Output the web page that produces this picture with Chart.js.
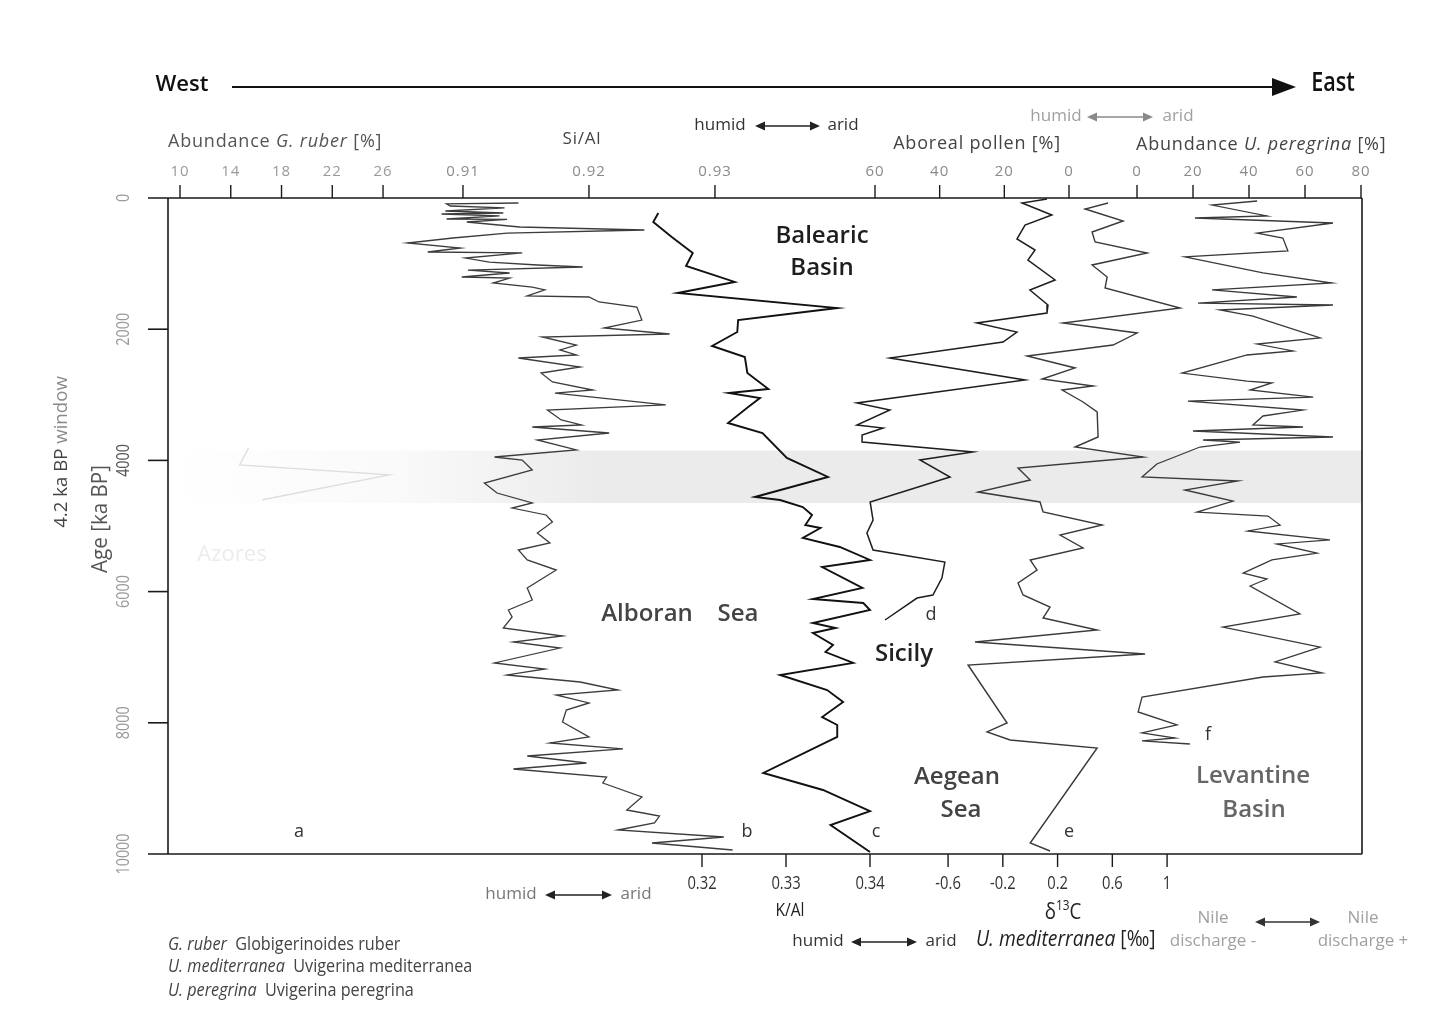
<!DOCTYPE html>
<html>
<head>
<meta charset="utf-8">
<script src="https://cdn.jsdelivr.net/npm/chart.js@4.4.1/dist/chart.umd.min.js"></script>
<style>
  html, body { margin: 0; padding: 0; background: #fff; }
  canvas { display: block; }
</style>
</head>
<body>
<canvas id="chart" width="1439" height="1025"></canvas>
<script>
// age axis (years BP) and tick values of every proxy axis
const ageTicks = [0, 2000, 4000, 6000, 8000, 10000];
const rubTicks = [10, 14, 18, 22, 26];
const siTicks = [0.91, 0.92, 0.93];
const pollenTicks = [60, 40, 20, 0];
const peregTicks = [0, 20, 40, 60, 80];
const kTicks = [0.32, 0.33, 0.34];
const d13Ticks = [-0.6, -0.2, 0.2, 0.6, 1];
const window42 = [3850, 4650];

// [age, value] pairs
// a - Azores, abundance G. ruber [%] (faded in the original)
const gRuber = [[3810, 15.4], [4070, 14.7], [4220, 26.5], [4600, 16.5]];

// b - Alboran Sea, Si/Al
const siAl = [
  [76, 0.9144], [91, 0.9087], [122, 0.9090], [152, 0.9133], [198, 0.9086], [229, 0.9132], [244, 0.9083],
  [274, 0.9129], [320, 0.9087], [325, 0.9135], [366, 0.9103], [442, 0.9145], [488, 0.9244], [534, 0.9135],
  [610, 0.9092], [686, 0.9056], [762, 0.9098], [823, 0.9072], [838, 0.9147], [915, 0.9102], [976, 0.9121],
  [1021, 0.9159], [1052, 0.9195], [1098, 0.9104], [1143, 0.9137], [1204, 0.9099], [1220, 0.9137],
  [1296, 0.9124], [1357, 0.9155], [1402, 0.9165], [1494, 0.9151], [1509, 0.9200], [1585, 0.9208],
  [1662, 0.9238], [1860, 0.9242], [1982, 0.9212], [2073, 0.9264], [2119, 0.9163], [2241, 0.9190],
  [2317, 0.9177], [2393, 0.9190], [2439, 0.9144], [2576, 0.9193], [2668, 0.9162], [2805, 0.9171],
  [2927, 0.9203], [2973, 0.9173], [3155, 0.9261], [3232, 0.9167], [3384, 0.9178], [3460, 0.9194],
  [3491, 0.9155], [3582, 0.9216], [3689, 0.9159], [3841, 0.9190], [3948, 0.9125], [3994, 0.9147],
  [4146, 0.9155], [4345, 0.9117], [4497, 0.9127], [4649, 0.9155], [4726, 0.9139], [4832, 0.9166],
  [4939, 0.9171], [5107, 0.9159], [5259, 0.9169], [5366, 0.9144], [5518, 0.9151], [5671, 0.9174],
  [5945, 0.9151], [6128, 0.9155], [6280, 0.9136], [6387, 0.9139], [6555, 0.9132], [6677, 0.9179],
  [6768, 0.9140], [6860, 0.9177], [7088, 0.9125], [7180, 0.9165], [7271, 0.9135], [7378, 0.9193],
  [7500, 0.9223], [7576, 0.9174], [7698, 0.9200], [7805, 0.9182], [7988, 0.9179], [8216, 0.9200],
  [8308, 0.9169], [8399, 0.9227], [8506, 0.9151], [8613, 0.9198], [8704, 0.9140], [8826, 0.9214],
  [8918, 0.9211], [9131, 0.9242], [9329, 0.9230], [9421, 0.9256], [9527, 0.9252], [9634, 0.9223],
  [9741, 0.9307], [9832, 0.9250], [9939, 0.9314]
];

// c - Balearic Basin, K/Al
const kAl = [
  [229, 0.3148], [366, 0.3142], [595, 0.3164], [838, 0.3189], [1037, 0.3181], [1280, 0.3239],
  [1448, 0.3171], [1677, 0.3361], [1860, 0.3243], [2043, 0.3242], [2256, 0.3212], [2424, 0.3251],
  [2668, 0.3254], [2912, 0.3279], [2973, 0.3232], [3049, 0.3269], [3186, 0.3255], [3430, 0.3231],
  [3582, 0.3272], [3963, 0.3301], [4253, 0.3350], [4558, 0.3263], [4604, 0.3293], [4710, 0.3320],
  [4832, 0.3331], [4985, 0.3323], [5031, 0.3341], [5183, 0.3320], [5320, 0.3364], [5518, 0.3400],
  [5625, 0.3343], [5945, 0.3391], [6113, 0.3332], [6174, 0.3392], [6280, 0.3400], [6479, 0.3332],
  [6555, 0.3359], [6631, 0.3332], [6814, 0.3356], [6921, 0.3347], [7088, 0.3380], [7271, 0.3293],
  [7500, 0.3349], [7683, 0.3368], [7912, 0.3343], [8033, 0.3361], [8216, 0.3361], [8765, 0.3273],
  [9024, 0.3344], [9345, 0.3400], [9558, 0.3353], [9970, 0.3400]
];

// d - Sicily, arboreal pollen [%]
const pollen = [
  [15, 6.8], [76, 14.5], [259, 5.3], [412, 13.6], [625, 16.1], [793, 10.5], [945, 12.7], [1250, 4.3],
  [1402, 12.1], [1631, 6.5], [1753, 6.8], [1906, 28.5], [2043, 16.1], [2195, 20.4], [2439, 55.4],
  [2774, 13.6], [3125, 65.6], [3232, 55.4], [3460, 65.6], [3506, 57.5], [3613, 64.0], [3720, 64.0],
  [3872, 29.7], [3994, 46.1], [4253, 36.8], [4634, 61.5], [4909, 60.6], [5107, 62.5], [5366, 60.6],
  [5549, 38.4], [5793, 39.3], [6052, 42.1], [6098, 47.0], [6433, 56.9]
];

// e - Aegean Sea, d13C U. mediterranea [permil]
const d13C = [
  [76, 0.569], [168, 0.401], [351, 0.679], [518, 0.452], [671, 0.474], [838, 0.854], [1021, 0.452],
  [1204, 0.562], [1372, 0.547], [1677, 1.095], [1906, 0.240], [2058, 0.781], [2241, 0.605],
  [2409, -0.023], [2591, 0.328], [2759, 0.087], [2866, 0.459], [2927, 0.233], [3110, 0.386],
  [3262, 0.489], [3643, 0.496], [3796, 0.328], [3948, 0.825], [4116, -0.089], [4299, 0.000],
  [4482, -0.381], [4634, 0.072], [4787, 0.094], [4985, 0.525], [5137, 0.218], [5335, 0.386],
  [5518, 0.000], [5671, 0.050], [5869, -0.089], [6052, -0.052], [6235, 0.145], [6403, 0.094],
  [6585, 0.489], [6768, -0.403], [6951, 0.839], [7119, -0.454], [8003, -0.169], [8140, -0.315],
  [8262, -0.147], [8384, 0.489], [9832, 0.000], [9954, 0.145]
];

// f - Levantine Basin, abundance U. peregrina [%]
const peregrina = [
  [46, 42.9], [107, 26.8], [274, 46.4], [305, 20.7], [381, 70.0], [534, 42.9], [610, 52.1], [808, 53.9],
  [899, 17.1], [1143, 45.0], [1296, 69.6], [1402, 26.8], [1509, 57.1], [1601, 21.8], [1631, 70.0],
  [1707, 29.6], [1799, 41.4], [2134, 65.4], [2226, 42.9], [2332, 55.7], [2393, 39.3], [2668, 16.1],
  [2790, 39.3], [2820, 48.2], [2927, 40.4], [3034, 62.9], [3095, 18.2], [3232, 59.3], [3323, 45.0],
  [3460, 41.4], [3491, 59.3], [3552, 20.0], [3643, 70.0], [3689, 23.6], [3720, 36.8], [3796, 22.5],
  [4055, 7.1], [4253, 1.8], [4314, 36.1], [4451, 17.1], [4619, 34.3], [4787, 21.4], [4848, 46.8],
  [4985, 51.1], [5076, 39.6], [5213, 68.9], [5274, 50.0], [5412, 64.3], [5518, 48.2], [5717, 37.9],
  [5808, 46.4], [5915, 40.4], [6341, 58.2], [6540, 30.7], [6845, 65.4], [7073, 49.3], [7241, 66.1],
  [7302, 45.0], [7607, 1.8], [7835, 0.4], [8033, 14.3], [8155, 1.8], [8232, 13.6], [8277, 1.8], [8323, 18.9]
];

const pts = arr => arr.map(([age, v]) => ({ x: v, y: age }));

const SANS = '"Open Sans", "Noto Sans", sans-serif';

function txt(ctx, s, x, y, font, color, align = 'center') {
    ctx.font = font;
    ctx.fillStyle = color;
    ctx.textAlign = align;
    ctx.textBaseline = 'middle';
    ctx.fillText(s, x, y);
}

// text squeezed horizontally, the original uses a condensed face
function narrowTxt(ctx, s, x, y, font, color, sx = 0.84) {
    ctx.save();
    ctx.translate(x, y);
    ctx.scale(sx, 1);
    txt(ctx, s, 0, 0, font, color);
    ctx.restore();
}

// draw a row of differently styled text pieces, centred or left aligned
function runs(ctx, parts, x, y, align = 'left') {
    let w = 0;
    parts.forEach(p => { ctx.font = p[1]; w += ctx.measureText(p[0]).width; });
    let cx = align === 'center' ? x - w / 2 : x;
    ctx.textAlign = 'left';
    ctx.textBaseline = 'middle';
    parts.forEach(p => {
        ctx.font = p[1];
        ctx.fillStyle = p[2];
        ctx.fillText(p[0], cx, y + (p[3] || 0));
        cx += ctx.measureText(p[0]).width;
    });
}

function head(ctx, x, y, dir, len, half) {
    ctx.beginPath();
    ctx.moveTo(x, y);
    ctx.lineTo(x - dir * len, y - half);
    ctx.lineTo(x - dir * len, y + half);
    ctx.closePath();
    ctx.fill();
}

function twoWay(ctx, x1, x2, y, color) {
    ctx.strokeStyle = color;
    ctx.fillStyle = color;
    ctx.lineWidth = 1.6;
    ctx.beginPath();
    ctx.moveTo(x1 + 6, y);
    ctx.lineTo(x2 - 6, y);
    ctx.stroke();
    head(ctx, x1, y, -1, 10, 4.5);
    head(ctx, x2, y, 1, 10, 4.5);
}

function humidArid(ctx, xh, xa1, xa2, xr, y, color, font) {
    txt(ctx, 'humid', xh, y, font, color);
    twoWay(ctx, xa1, xa2, y + 1, color === '#a0a0a0' ? '#8a8a8a' : '#222');
    txt(ctx, 'arid', xr, y, font, color);
}

const decor = {
    id: 'decor',
    beforeDatasetsDraw(chart) {
        const { ctx, chartArea: a, scales } = chart;
        const y1 = scales.y.getPixelForValue(window42[0]);
        const y2 = scales.y.getPixelForValue(window42[1]);
        ctx.save();
        const g = ctx.createLinearGradient(a.left, 0, a.left + 430, 0);
        g.addColorStop(0, 'rgba(236,236,236,0)');
        g.addColorStop(0.55, 'rgba(236,236,236,0.3)');
        g.addColorStop(1, 'rgba(235,235,235,1)');
        ctx.fillStyle = g;
        ctx.fillRect(a.left, y1, a.right - a.left, y2 - y1);
        txt(ctx, 'Azores', 232, 555, '22px ' + SANS, '#ececec');
        ctx.restore();
    },
    afterDraw(chart) {
        const { ctx, chartArea: a, scales } = chart;
        ctx.save();

        // frame
        ctx.strokeStyle = '#1a1a1a';
        ctx.lineWidth = 1.6;
        ctx.beginPath();
        ctx.moveTo(a.left - 20, a.top); ctx.lineTo(a.right, a.top);
        ctx.moveTo(a.left - 20, a.bottom); ctx.lineTo(a.right, a.bottom);
        ctx.moveTo(a.left, a.top); ctx.lineTo(a.left, a.bottom);
        ctx.moveTo(a.right, a.top); ctx.lineTo(a.right, a.bottom);
        ctx.stroke();

        // age ticks and rotated labels
        ageTicks.forEach(v => {
            const y = scales.y.getPixelForValue(v);
            if (v > 0 && v < 10000) {
                ctx.beginPath(); ctx.moveTo(a.left - 20, y); ctx.lineTo(a.left, y); ctx.stroke();
            }
            ctx.save();
            ctx.translate(124, y);
            ctx.rotate(-Math.PI / 2);
            narrowTxt(ctx, String(v), 0, 0, '18px ' + SANS, v === 4000 ? '#555' : '#9a9a9a', 0.8);
            ctx.restore();
        });
        ctx.save();
        ctx.translate(101, 519);
        ctx.rotate(-Math.PI / 2);
        narrowTxt(ctx, 'Age [ka BP]', 0, 0, '21px ' + SANS, '#555', 0.98);
        ctx.restore();
        ctx.save();
        ctx.translate(62, 452);
        ctx.rotate(-Math.PI / 2);
        ctx.scale(0.98, 1);
        runs(ctx, [['4.2 ka BP ', '19px ' + SANS, '#444'], ['window', '19px ' + SANS, '#8a8a8a']], 0, 0, 'center');
        ctx.restore();

        // top ticks
        const topAxes = [['xa', rubTicks, String], ['xb', siTicks, v => v.toFixed(2)],
            ['xd', pollenTicks, String], ['xf', peregTicks, String]];
        ctx.strokeStyle = '#1a1a1a';
        ctx.lineWidth = 1.4;
        ctx.letterSpacing = '1px';
        topAxes.forEach(([id, ticks, fmt]) => {
            ticks.forEach(v => {
                const x = scales[id].getPixelForValue(v);
                ctx.beginPath(); ctx.moveTo(x, a.top); ctx.lineTo(x, a.top - 13); ctx.stroke();
                txt(ctx, fmt(v), x, a.top - 26, '15px ' + SANS, id === 'xa' ? '#9a9a9a' : '#8a8a8a');
            });
        });
        ctx.letterSpacing = '0px';

        // bottom ticks
        const botAxes = [['xc', kTicks, v => v.toFixed(2)], ['xe', d13Ticks, String]];
        botAxes.forEach(([id, ticks, fmt]) => {
            ticks.forEach(v => {
                const x = scales[id].getPixelForValue(v);
                ctx.beginPath(); ctx.moveTo(x, a.bottom); ctx.lineTo(x, a.bottom + 13); ctx.stroke();
                narrowTxt(ctx, fmt(v), x, a.bottom + 30, '18px ' + SANS, '#333', 0.82);
            });
        });

        // West -> East
        txt(ctx, 'West', 182, 85, '600 22px ' + SANS, '#111');
        ctx.strokeStyle = '#111';
        ctx.fillStyle = '#111';
        ctx.lineWidth = 2;
        ctx.beginPath(); ctx.moveTo(232, 87); ctx.lineTo(1280, 87); ctx.stroke();
        head(ctx, 1296, 87, 1, 24, 9);
        narrowTxt(ctx, 'East', 1333, 83, '600 27px ' + SANS, '#111', 0.8);

        // axis titles on top
        ctx.letterSpacing = '0.8px';
        runs(ctx, [['Abundance ', '18px ' + SANS, '#555'], ['G. ruber', 'italic 18px ' + SANS, '#555'],
            [' [%]', '18px ' + SANS, '#555']], 168, 142);
        txt(ctx, 'Si/Al', 582, 139, '17px ' + SANS, '#444');
        txt(ctx, 'Aboreal pollen [%]', 977, 144, '18px ' + SANS, '#444');
        runs(ctx, [['Abundance ', '18px ' + SANS, '#444'], ['U. peregrina', 'italic 18px ' + SANS, '#444'],
            [' [%]', '18px ' + SANS, '#444']], 1136, 145);
        ctx.letterSpacing = '0px';
        humidArid(ctx, 720, 755, 820, 843, 125, '#333', '17px ' + SANS);
        humidArid(ctx, 1056, 1087, 1153, 1178, 116, '#a0a0a0', '17px ' + SANS);

        // region names and curve letters
        const region = '600 24px ' + SANS;
        txt(ctx, 'Balearic', 822, 236, region, '#1e1e1e');
        txt(ctx, 'Basin', 822, 268, region, '#1e1e1e');
        txt(ctx, 'Alboran', 647, 614, region, '#444');
        txt(ctx, 'Sea', 738, 614, region, '#444');
        txt(ctx, 'Sicily', 904, 654, region, '#222');
        txt(ctx, 'Aegean', 957, 777, region, '#444');
        txt(ctx, 'Sea', 961, 810, region, '#444');
        txt(ctx, 'Levantine', 1253, 776, region, '#666');
        txt(ctx, 'Basin', 1254, 810, region, '#666');
        const let18 = '18px ' + SANS;
        [['a', 299, 832], ['b', 747, 832], ['c', 876, 832], ['d', 931, 615], ['e', 1069, 832], ['f', 1208, 735]]
            .forEach(([s, x, y]) => txt(ctx, s, x, y, let18, '#333'));

        // bottom labels
        humidArid(ctx, 511, 545, 612, 636, 894, '#777', '17px ' + SANS);
        narrowTxt(ctx, 'K/Al', 790, 911, '19px ' + SANS, '#222', 0.82);
        ctx.save();
        ctx.translate(1063, 913);
        ctx.scale(0.85, 1);
        runs(ctx, [['\u03b4', '22px ' + SANS, '#222'], ['13', '14px ' + SANS, '#222', -7],
            ['C', '22px ' + SANS, '#222']], 0, 0, 'center');
        ctx.restore();
        humidArid(ctx, 818, 851, 917, 941, 941, '#333', '17px ' + SANS);
        ctx.save();
        ctx.translate(976, 940);
        ctx.scale(0.92, 1);
        runs(ctx, [['U. mediterranea', 'italic 21px ' + SANS, '#222'], [' [\u2030]', '21px ' + SANS, '#222']], 0, 0);
        ctx.restore();
        txt(ctx, 'Nile', 1213, 918, '17px ' + SANS, '#a0a0a0');
        txt(ctx, 'discharge -', 1213, 941, '17px ' + SANS, '#a0a0a0');
        txt(ctx, 'Nile', 1363, 918, '17px ' + SANS, '#a0a0a0');
        txt(ctx, 'discharge +', 1363, 941, '17px ' + SANS, '#a0a0a0');
        twoWay(ctx, 1255, 1320, 922, '#333');

        // abbreviations
        const nf = '18px ' + SANS, ni = 'italic 18px ' + SANS;
        [[['G. ruber', ni], ['  Globigerinoides ruber', nf], 945],
         [['U. mediterranea', ni], ['  Uvigerina mediterranea', nf], 967],
         [['U. peregrina', ni], ['  Uvigerina peregrina', nf], 991]].forEach(([p1, p2, y]) => {
            ctx.save();
            ctx.translate(168, y);
            ctx.scale(0.9, 1);
            runs(ctx, [[p1[0], p1[1], '#444'], [p2[0], p2[1], '#444']], 0, 0);
            ctx.restore();
        });

        ctx.restore();
    }
};

const line = (data, axis, color, width) => ({
    data: pts(data), xAxisID: axis, yAxisID: 'y', showLine: true, fill: false,
    borderColor: color, borderWidth: width, pointRadius: 0, tension: 0
});

const ctx = document.getElementById('chart').getContext('2d');
new Chart(ctx, {
    type: 'scatter',
    data: {
        datasets: [
            line(gRuber, 'xa', '#dedede', 1.4),
            line(siAl, 'xb', '#3c3c3c', 1.3),
            line(kAl, 'xc', '#111', 1.9),
            line(pollen, 'xd', '#1e1e1e', 1.5),
            line(d13C, 'xe', '#3a3a3a', 1.4),
            line(peregrina, 'xf', '#3a3a3a', 1.3)
        ]
    },
    options: {
        responsive: false,
        animation: false,
        events: [],
        layout: { padding: { left: 168, top: 198, right: 77, bottom: 171 } },
        plugins: { legend: { display: false }, tooltip: { enabled: false } },
        scales: {
            x: { type: 'linear', display: false },
            y: { type: 'linear', reverse: true, min: 0, max: 10000, display: false },
            xa: { type: 'linear', axis: 'x', min: 9.054, max: 103.15, display: false },
            xb: { type: 'linear', axis: 'x', min: 0.88659, max: 0.98135, display: false },
            xc: { type: 'linear', axis: 'x', min: 0.25643, max: 0.39857, display: false },
            xd: { type: 'linear', axis: 'x', min: -90.62, max: 278.66, reverse: true, display: false },
            xe: { type: 'linear', axis: 'x', min: -6.299, max: 2.424, display: false },
            xf: { type: 'linear', axis: 'x', min: -346.07, max: 80.36, display: false }
        }
    },
    plugins: [decor]
});
</script>
</body>
</html>
